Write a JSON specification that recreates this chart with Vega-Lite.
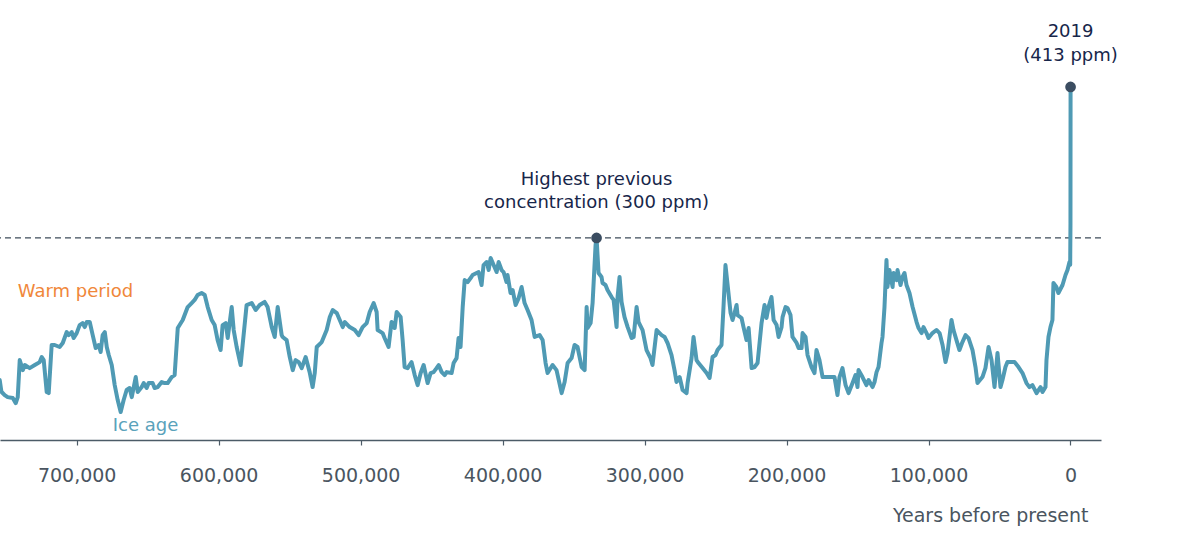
{
  "$schema": "https://vega.github.io/schema/vega-lite/v6.json",
  "width": 1101,
  "height": 440,
  "autosize": {"type": "none"},
  "padding": {"left": 0, "top": 0, "right": 99, "bottom": 110},
  "background": "#ffffff",
  "config": {"view": {"stroke": null}, "font": "DejaVu Sans"},
  "data": {"name": "co2"},
  "datasets": {
    "co2": [
      {"year":754200,"ppm":193.7},{"year":753000,"ppm":184.9},{"year":750700,"ppm":182.4},{"year":748600,"ppm":180.9},{"year":745000,"ppm":180.2},{"year":742900,"ppm":176.4},{"year":741500,"ppm":180.9},{"year":740100,"ppm":208.6},{"year":737900,"ppm":201.1},{"year":736500,"ppm":204.9},{"year":733100,"ppm":202.6},{"year":729500,"ppm":204.9},{"year":726000,"ppm":207.1},{"year":724600,"ppm":210.9},{"year":723200,"ppm":208.6},{"year":721100,"ppm":184.7},{"year":719700,"ppm":183.9},{"year":717600,"ppm":219.9},{"year":715500,"ppm":219.9},{"year":712000,"ppm":218.4},{"year":709800,"ppm":221.4},{"year":707000,"ppm":229.6},{"year":705600,"ppm":227.3},{"year":703500,"ppm":229.6},{"year":702100,"ppm":225.1},{"year":700000,"ppm":228.8},{"year":697900,"ppm":234.8},{"year":695800,"ppm":236.3},{"year":694300,"ppm":233.3},{"year":692900,"ppm":237.1},{"year":690800,"ppm":237.1},{"year":688700,"ppm":227.3},{"year":686600,"ppm":217.6},{"year":684500,"ppm":219.9},{"year":683100,"ppm":214.6},{"year":681700,"ppm":227.3},{"year":680200,"ppm":229.6},{"year":678800,"ppm":218.4},{"year":677400,"ppm":212.4},{"year":675300,"ppm":204.9},{"year":673200,"ppm":189.9},{"year":671100,"ppm":178.7},{"year":669000,"ppm":169.7},{"year":666900,"ppm":178.7},{"year":664800,"ppm":186.2},{"year":662700,"ppm":187.7},{"year":661200,"ppm":180.9},{"year":658400,"ppm":195.9},{"year":657000,"ppm":184.7},{"year":654200,"ppm":188.4},{"year":652800,"ppm":191.4},{"year":650700,"ppm":187.7},{"year":649300,"ppm":191.4},{"year":646500,"ppm":191.4},{"year":645100,"ppm":187.7},{"year":642900,"ppm":188.4},{"year":640100,"ppm":192.2},{"year":638000,"ppm":191.4},{"year":635900,"ppm":191.4},{"year":633100,"ppm":195.9},{"year":631000,"ppm":197.4},{"year":628800,"ppm":232.6},{"year":625300,"ppm":238.6},{"year":621800,"ppm":248.3},{"year":619000,"ppm":251.3},{"year":616900,"ppm":253.6},{"year":614800,"ppm":257.3},{"year":612000,"ppm":258.8},{"year":609800,"ppm":257.3},{"year":607700,"ppm":248.3},{"year":604900,"ppm":238.6},{"year":602800,"ppm":234.8},{"year":600700,"ppm":223.6},{"year":598600,"ppm":216.1},{"year":597200,"ppm":234.8},{"year":595000,"ppm":236.3},{"year":593600,"ppm":225.1},{"year":590800,"ppm":248.3},{"year":589400,"ppm":231.1},{"year":587300,"ppm":218.4},{"year":584500,"ppm":204.9},{"year":583100,"ppm":219.9},{"year":580300,"ppm":249.8},{"year":576700,"ppm":251.3},{"year":573900,"ppm":246.1},{"year":571100,"ppm":249.8},{"year":567600,"ppm":252.1},{"year":565500,"ppm":248.3},{"year":562600,"ppm":233.3},{"year":560500,"ppm":225.9},{"year":558400,"ppm":248.3},{"year":555600,"ppm":227.3},{"year":554900,"ppm":225.9},{"year":552100,"ppm":223.6},{"year":549900,"ppm":210.9},{"year":547800,"ppm":201.1},{"year":545800,"ppm":208.6},{"year":543600,"ppm":207.1},{"year":541500,"ppm":202.6},{"year":538700,"ppm":210.9},{"year":535900,"ppm":199.6},{"year":533800,"ppm":188.4},{"year":532300,"ppm":198.9},{"year":530900,"ppm":218.4},{"year":527400,"ppm":222.1},{"year":523900,"ppm":231.1},{"year":521700,"ppm":240.8},{"year":519600,"ppm":246.1},{"year":516800,"ppm":243.8},{"year":514700,"ppm":238.6},{"year":512600,"ppm":233.3},{"year":511100,"ppm":237.1},{"year":507700,"ppm":233.3},{"year":504100,"ppm":231.1},{"year":501400,"ppm":227.3},{"year":498600,"ppm":233.3},{"year":495700,"ppm":236.3},{"year":493600,"ppm":244.6},{"year":490800,"ppm":251.3},{"year":488700,"ppm":244.6},{"year":488000,"ppm":231.1},{"year":484500,"ppm":228.8},{"year":483100,"ppm":225.1},{"year":480300,"ppm":218.4},{"year":478200,"ppm":237.1},{"year":476000,"ppm":232.6},{"year":474600,"ppm":244.6},{"year":471800,"ppm":240.8},{"year":470400,"ppm":223.6},{"year":469000,"ppm":203.4},{"year":466900,"ppm":202.6},{"year":464100,"ppm":207.1},{"year":461900,"ppm":197.4},{"year":459800,"ppm":189.9},{"year":457700,"ppm":198.9},{"year":455600,"ppm":204.9},{"year":452800,"ppm":191.4},{"year":450700,"ppm":198.9},{"year":448600,"ppm":199.6},{"year":446500,"ppm":202.6},{"year":445000,"ppm":204.9},{"year":442900,"ppm":199.6},{"year":440800,"ppm":197.4},{"year":439400,"ppm":199.6},{"year":435900,"ppm":198.9},{"year":434500,"ppm":206.4},{"year":432400,"ppm":210.1},{"year":431000,"ppm":225.1},{"year":429600,"ppm":218.4},{"year":428100,"ppm":248.3},{"year":426700,"ppm":268.5},{"year":424600,"ppm":267.0},{"year":422500,"ppm":270.0},{"year":421100,"ppm":272.3},{"year":418300,"ppm":273.8},{"year":416900,"ppm":274.5},{"year":414800,"ppm":264.8},{"year":413400,"ppm":279.7},{"year":411200,"ppm":282.0},{"year":409800,"ppm":276.0},{"year":408400,"ppm":285.0},{"year":406300,"ppm":279.7},{"year":404200,"ppm":274.5},{"year":402800,"ppm":282.0},{"year":400700,"ppm":276.0},{"year":399300,"ppm":274.5},{"year":397200,"ppm":267.0},{"year":396500,"ppm":272.3},{"year":394400,"ppm":258.8},{"year":392900,"ppm":261.0},{"year":390800,"ppm":249.8},{"year":388700,"ppm":255.0},{"year":386600,"ppm":263.3},{"year":384500,"ppm":251.3},{"year":382400,"ppm":246.1},{"year":379600,"ppm":238.6},{"year":377400,"ppm":225.9},{"year":373900,"ppm":227.3},{"year":371800,"ppm":223.6},{"year":369700,"ppm":206.4},{"year":368300,"ppm":198.9},{"year":364800,"ppm":204.9},{"year":362000,"ppm":201.1},{"year":358400,"ppm":183.9},{"year":356300,"ppm":192.2},{"year":354200,"ppm":206.4},{"year":351400,"ppm":210.1},{"year":349300,"ppm":219.9},{"year":347200,"ppm":218.4},{"year":344300,"ppm":203.4},{"year":342200,"ppm":201.1},{"year":340800,"ppm":248.3},{"year":340100,"ppm":232.6},{"year":338000,"ppm":236.3},{"year":336600,"ppm":251.3},{"year":334500,"ppm":294.7},{"year":333800,"ppm":300.0},{"year":332400,"ppm":273.8},{"year":330300,"ppm":270.8},{"year":329600,"ppm":266.3},{"year":327500,"ppm":264.8},{"year":326100,"ppm":261.0},{"year":323200,"ppm":255.8},{"year":321800,"ppm":253.6},{"year":319700,"ppm":233.3},{"year":319000,"ppm":255.8},{"year":317600,"ppm":270.8},{"year":316200,"ppm":252.1},{"year":314100,"ppm":240.8},{"year":311900,"ppm":233.3},{"year":309100,"ppm":225.1},{"year":307700,"ppm":225.9},{"year":305600,"ppm":248.3},{"year":304200,"ppm":237.1},{"year":301400,"ppm":231.1},{"year":298600,"ppm":216.1},{"year":295800,"ppm":210.1},{"year":294400,"ppm":204.9},{"year":291500,"ppm":231.1},{"year":288000,"ppm":227.3},{"year":285900,"ppm":225.9},{"year":283800,"ppm":221.4},{"year":281000,"ppm":212.4},{"year":278900,"ppm":201.1},{"year":277500,"ppm":192.2},{"year":275300,"ppm":195.9},{"year":273200,"ppm":186.2},{"year":270400,"ppm":183.9},{"year":269700,"ppm":191.4},{"year":266900,"ppm":210.1},{"year":265500,"ppm":225.9},{"year":263400,"ppm":208.6},{"year":262000,"ppm":206.4},{"year":259100,"ppm":202.6},{"year":256300,"ppm":198.9},{"year":254200,"ppm":195.2},{"year":252100,"ppm":210.9},{"year":250000,"ppm":212.4},{"year":248600,"ppm":216.1},{"year":245800,"ppm":219.9},{"year":244400,"ppm":248.3},{"year":243000,"ppm":279.7},{"year":241500,"ppm":264.8},{"year":239400,"ppm":243.8},{"year":238000,"ppm":238.6},{"year":236600,"ppm":243.8},{"year":235200,"ppm":249.8},{"year":234500,"ppm":242.3},{"year":231700,"ppm":240.1},{"year":230300,"ppm":233.3},{"year":228200,"ppm":223.6},{"year":226700,"ppm":232.6},{"year":224600,"ppm":202.6},{"year":222500,"ppm":203.4},{"year":220400,"ppm":206.4},{"year":217600,"ppm":236.3},{"year":215500,"ppm":249.8},{"year":214100,"ppm":240.1},{"year":212700,"ppm":248.3},{"year":210600,"ppm":255.8},{"year":209100,"ppm":238.6},{"year":207000,"ppm":234.8},{"year":205600,"ppm":225.9},{"year":203500,"ppm":233.3},{"year":202800,"ppm":240.8},{"year":200700,"ppm":248.3},{"year":199300,"ppm":247.6},{"year":197200,"ppm":242.3},{"year":195800,"ppm":225.9},{"year":192900,"ppm":221.4},{"year":191500,"ppm":217.6},{"year":189400,"ppm":217.6},{"year":188700,"ppm":228.8},{"year":186600,"ppm":225.9},{"year":185200,"ppm":212.4},{"year":182400,"ppm":203.4},{"year":180300,"ppm":198.9},{"year":178900,"ppm":216.1},{"year":176800,"ppm":208.6},{"year":174600,"ppm":195.9},{"year":172500,"ppm":195.9},{"year":169700,"ppm":195.9},{"year":166200,"ppm":195.9},{"year":164100,"ppm":182.4},{"year":162700,"ppm":195.9},{"year":160600,"ppm":202.6},{"year":158400,"ppm":189.9},{"year":156300,"ppm":183.9},{"year":153500,"ppm":191.4},{"year":151400,"ppm":197.4},{"year":150000,"ppm":188.4},{"year":149300,"ppm":201.1},{"year":146500,"ppm":195.9},{"year":143700,"ppm":189.9},{"year":142200,"ppm":193.7},{"year":139400,"ppm":188.4},{"year":138000,"ppm":192.2},{"year":136600,"ppm":199.6},{"year":135200,"ppm":203.4},{"year":133100,"ppm":221.4},{"year":132400,"ppm":225.9},{"year":131000,"ppm":248.3},{"year":129600,"ppm":283.5},{"year":128900,"ppm":263.3},{"year":127500,"ppm":276.0},{"year":125300,"ppm":263.3},{"year":124600,"ppm":273.8},{"year":122500,"ppm":268.5},{"year":121800,"ppm":276.0},{"year":119700,"ppm":264.8},{"year":118300,"ppm":270.8},{"year":116900,"ppm":273.8},{"year":115500,"ppm":264.8},{"year":113400,"ppm":258.8},{"year":111200,"ppm":248.3},{"year":108400,"ppm":237.1},{"year":107000,"ppm":232.6},{"year":104900,"ppm":228.8},{"year":103500,"ppm":233.3},{"year":101400,"ppm":228.8},{"year":100000,"ppm":225.1},{"year":97200,"ppm":228.8},{"year":94400,"ppm":231.1},{"year":92200,"ppm":228.8},{"year":90100,"ppm":219.9},{"year":88000,"ppm":207.1},{"year":86600,"ppm":213.9},{"year":83800,"ppm":238.6},{"year":82400,"ppm":231.1},{"year":80300,"ppm":223.6},{"year":78200,"ppm":216.1},{"year":76100,"ppm":222.1},{"year":73900,"ppm":227.3},{"year":71800,"ppm":225.1},{"year":69000,"ppm":216.1},{"year":66900,"ppm":203.4},{"year":65500,"ppm":191.4},{"year":62000,"ppm":195.9},{"year":59900,"ppm":202.6},{"year":57700,"ppm":218.4},{"year":55600,"ppm":208.6},{"year":53500,"ppm":188.4},{"year":51400,"ppm":213.9},{"year":49300,"ppm":188.4},{"year":47900,"ppm":193.7},{"year":45800,"ppm":203.4},{"year":44400,"ppm":207.1},{"year":39400,"ppm":207.1},{"year":36600,"ppm":203.4},{"year":33800,"ppm":198.9},{"year":31000,"ppm":191.4},{"year":28900,"ppm":188.4},{"year":26800,"ppm":189.9},{"year":23900,"ppm":183.9},{"year":21100,"ppm":188.4},{"year":19700,"ppm":184.7},{"year":17600,"ppm":188.4},{"year":16900,"ppm":208.6},{"year":15500,"ppm":225.9},{"year":14100,"ppm":233.3},{"year":12700,"ppm":238.6},{"year":12000,"ppm":266.3},{"year":9900,"ppm":263.3},{"year":8500,"ppm":258.8},{"year":5600,"ppm":264.8},{"year":3500,"ppm":272.3},{"year":2100,"ppm":276.0},{"year":700,"ppm":282.0},{"year":200,"ppm":280.0},{"year":0,"ppm":311.0},{"year":-69,"ppm":413.0}
    ],
    "ref": [{"ppm": 300}],
    "dots": [{"year": 333800, "ppm": 300}, {"year": -69, "ppm": 413}],
    "notes": [
      {"label": "2019", "year": -69, "ppm": 454.1},
      {"label": "(413 ppm)", "year": -69, "ppm": 436.2},
      {"label": "Highest previous", "year": 333800, "ppm": 343.4},
      {"label": "concentration (300 ppm)", "year": 333800, "ppm": 326.2}
    ],
    "warm": [{"label": "Warm period", "year": 741500, "ppm": 259.5}],
    "ice": [{"label": "Ice age", "year": 674600, "ppm": 159.2}]
  },
  "layer": [
    {
      "data": {"name": "ref"},
      "mark": {"type": "rule", "color": "#3e4c5a", "strokeWidth": 1.3, "strokeDash": [6, 4]},
      "encoding": {"y": {"field": "ppm", "type": "quantitative", "scale": {"domain": [148.8, 478.1], "nice": false, "zero": false}, "axis": null}}
    },
    {
      "data": {"name": "co2"},
      "mark": {"type": "line", "color": "#4f9ab4", "strokeWidth": 4, "strokeJoin": "round", "strokeCap": "round"},
      "encoding": {
        "x": {"field": "year", "type": "quantitative", "scale": {"domain": [-21500, 754000], "reverse": true, "nice": false, "zero": false},
          "axis": {"values": [700000, 600000, 500000, 400000, 300000, 200000, 100000, 0], "format": ",d",
            "title": "Years before present", "grid": false, "domainColor": "#4c5b67", "domainWidth": 1.3,
            "tickColor": "#4c5b67", "tickSize": 5, "tickWidth": 1.2, "labelPadding": 21, "labelFontSize": 19,
            "labelColor": "#4a5560", "labelFont": "DejaVu Sans", "titleFont": "DejaVu Sans", "titleFontSize": 19,
            "titleFontWeight": "normal", "titleColor": "#4a5560", "titleAnchor": "end", "titleAlign": "right",
            "titleX": 1088, "titleY": 75, "titleBaseline": "middle"}},
        "y": {"field": "ppm", "type": "quantitative", "scale": {"domain": [148.8, 478.1], "nice": false, "zero": false}, "axis": null}
      }
    },
    {
      "data": {"name": "dots"},
      "mark": {"type": "point", "filled": true, "color": "#3b4d61", "size": 115, "opacity": 1},
      "encoding": {"x": {"field": "year", "type": "quantitative"}, "y": {"field": "ppm", "type": "quantitative", "axis": null}}
    },
    {
      "data": {"name": "notes"},
      "mark": {"type": "text", "align": "center", "baseline": "middle", "fontSize": 18, "color": "#17264a", "font": "DejaVu Sans"},
      "encoding": {"text": {"field": "label"}, "x": {"field": "year", "type": "quantitative"}, "y": {"field": "ppm", "type": "quantitative", "axis": null}}
    },
    {
      "data": {"name": "warm"},
      "mark": {"type": "text", "align": "left", "baseline": "middle", "fontSize": 18, "color": "#f0873a", "font": "DejaVu Sans"},
      "encoding": {"text": {"field": "label"}, "x": {"field": "year", "type": "quantitative"}, "y": {"field": "ppm", "type": "quantitative", "axis": null}}
    },
    {
      "data": {"name": "ice"},
      "mark": {"type": "text", "align": "left", "baseline": "middle", "fontSize": 18, "color": "#5aa2bb", "font": "DejaVu Sans"},
      "encoding": {"text": {"field": "label"}, "x": {"field": "year", "type": "quantitative"}, "y": {"field": "ppm", "type": "quantitative", "axis": null}}
    }
  ]
}
